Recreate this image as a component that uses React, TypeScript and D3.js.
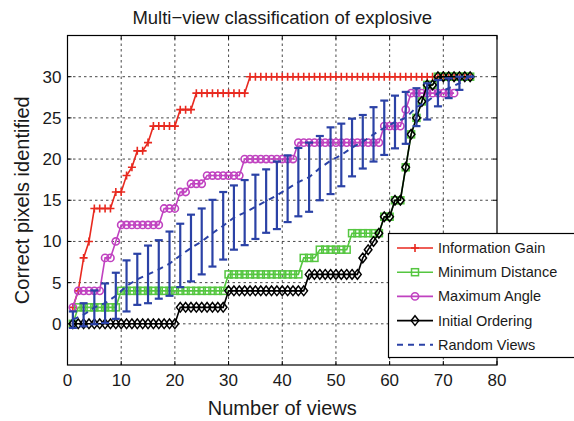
import * as d3 from "d3";

// values, one per view (view 1, 2, 3, ...)
const infoGain = [
  2, 4, 8, 10, 14, 14, 14, 14, 16, 16, 18, 19, 21, 21, 22, 24, 24, 24, 24, 24,
  26, 26, 26, 28, 28, 28, 28, 28, 28, 28, 28, 28, 28, 30, 30, 30, 30, 30, 30, 30,
  30, 30, 30, 30, 30, 30, 30, 30, 30, 30, 30, 30, 30, 30, 30, 30, 30, 30, 30, 30,
  30, 30, 30, 30, 30, 30, 30, 30, 30, 30, 30, 30, 30, 30, 30,
];
const minDistance = [
  0, 2, 2, 2, 2, 2, 2, 2, 2, 4, 4, 4, 4, 4, 4, 4, 4, 4, 4, 4,
  4, 4, 4, 4, 4, 4, 4, 4, 4, 6, 6, 6, 6, 6, 6, 6, 6, 6, 6, 6,
  6, 6, 6, 8, 8, 8, 9, 9, 9, 9, 9, 9, 11, 11, 11, 11, 11, 11, 13, 13,
  15, 15, 19, 23, 25, 27, 29, 29, 30, 30, 30, 30, 30, 30, 30,
];
const maxAngle = [
  2, 4, 4, 4, 4, 4, 8, 8, 10, 12, 12, 12, 12, 12, 12, 12, 12, 14, 14, 14,
  16, 16, 17, 17, 17, 18, 18, 18, 18, 18, 18, 18, 20, 20, 20, 20, 20, 20, 20, 20,
  20, 20, 22, 22, 22, 22, 22, 22, 22, 22, 22, 22, 22, 22, 22, 22, 22, 22, 24, 24,
  24, 24, 26, 28, 28, 28, 28, 28, 28, 28, 28, 28,
];
const initialOrdering = [
  0, 0, 0, 0, 0, 0, 0, 0, 0, 0, 0, 0, 0, 0, 0, 0, 0, 0, 0, 0,
  2, 2, 2, 2, 2, 2, 2, 2, 2, 4, 4, 4, 4, 4, 4, 4, 4, 4, 4, 4,
  4, 4, 4, 4, 6, 6, 6, 6, 6, 6, 6, 6, 6, 6, 8, 9, 10, 11, 13, 13,
  15, 15, 19, 23, 25, 27, 29, 29, 30, 30, 30, 30, 30, 30, 30,
];

// random views: mean and spread, every second view
const randomViews = [
  1, 3, 5, 7, 9, 11, 13, 15, 17, 19, 21, 23, 25, 27, 29, 31, 33, 35, 37,
  39, 41, 43, 45, 47, 49, 51, 53, 55, 57, 59, 61, 63, 65, 67, 69, 71, 73, 75,
];
const randomMean = [
  0.5, 1.1, 2.0, 2.5, 3.4, 4.6, 5.4, 6.0, 6.6, 7.3, 8.3, 9.2, 10.0, 11.0, 11.9, 12.9, 13.5, 14.2, 14.9,
  15.6, 16.4, 17.2, 17.8, 18.9, 19.8, 20.5, 21.4, 22.1, 23.0, 23.8, 24.5, 25.0, 26.3, 27.0, 28.0, 28.6, 29.2, 30,
];
const randomStd = [
  1.0, 1.4, 2.05, 2.4, 2.8, 3.1, 3.1, 3.5, 3.55, 3.9, 3.85, 4.05, 4.0, 4.05, 4.1, 3.9, 3.95, 3.9, 3.85,
  4.1, 4.05, 4.15, 4.2, 3.9, 4.05, 3.8, 3.5, 3.25, 3.3, 3.3, 3.2, 3.15, 2.3, 2.2, 1.6, 1.2, 0.8, 0,
];

const xTicks = [0, 10, 20, 30, 40, 50, 60, 70, 80];
const yTicks = [0, 5, 10, 15, 20, 25, 30];
const legendLabels = ["Information Gain", "Minimum Distance", "Maximum Angle", "Initial Ordering", "Random Views"];

const RED = "#e8291f";
const GREEN = "#55c640";
const MAGENTA = "#c042c0";
const BLACK = "#000";
const BLUE = "#2b42a6";
const FONT = "'Liberation Sans', Arial, Helvetica, sans-serif";

const W = 574;
const H = 421;
const x = d3.scaleLinear().domain([0, 80]).range([67.5, 497]);
const y = d3.scaleLinear().domain([-5, 35]).range([365, 35.5]);

type Marker = "plus" | "square" | "circle" | "diamond";

function markerEl(kind: Marker, cx: number, cy: number, color: string, key: string | number) {
  if (kind === "plus")
    return <path key={key} d={`M${cx - 4},${cy}H${cx + 4}M${cx},${cy - 4}V${cy + 4}`} stroke={color} strokeWidth={1.6} />;
  if (kind === "square")
    return <rect key={key} x={cx - 3.5} y={cy - 3.5} width={7} height={7} fill="none" stroke={color} strokeWidth={1.5} />;
  if (kind === "circle")
    return <circle key={key} cx={cx} cy={cy} r={3.6} fill="none" stroke={color} strokeWidth={1.6} />;
  return <path key={key} d={`M${cx},${cy - 4.8}L${cx + 3.8},${cy}L${cx},${cy + 4.8}L${cx - 3.8},${cy}Z`} fill="none" stroke={color} strokeWidth={1.5} />;
}

function Series({ values, color, marker }: { values: number[]; color: string; marker: Marker }) {
  const pts = values.map((v, i) => [x(i + 1), y(v)] as [number, number]);
  const line = d3.line();
  return (
    <g>
      <path d={line(pts) ?? ""} fill="none" stroke={color} strokeWidth={1.6} />
      {pts.map((p, i) => markerEl(marker, p[0], p[1], color, i))}
    </g>
  );
}

export default function App() {
  const meanLine = d3
    .line<number>()
    .x((_, i) => x(randomViews[i]))
    .y((d) => y(d));

  const gridX = xTicks.filter((t) => t > 0 && t < 80);
  const legendX = 388.5;
  const legendY = 233.5;
  const rowH = 24.2;

  return (
    <svg width={W} height={H} style={{ position: "absolute", left: 0, top: 0, background: "#fff" }} fontFamily={FONT}>
      <rect x={0} y={0} width={W} height={H} fill="#fff" />
      {/* grid */}
      <g stroke="#333" strokeWidth={0.9} strokeDasharray="2.5,3">
        {gridX.map((t) => (
          <line key={"gx" + t} x1={x(t)} x2={x(t)} y1={y(-5)} y2={y(35)} />
        ))}
        {yTicks.map((t) => (
          <line key={"gy" + t} x1={x(0)} x2={x(80)} y1={y(t)} y2={y(t)} />
        ))}
      </g>
      {/* ticks */}
      <g stroke="#000" strokeWidth={1}>
        {xTicks.map((t) => (
          <g key={"tx" + t}>
            <line x1={x(t)} x2={x(t)} y1={y(-5)} y2={y(-5) - 4} />
            <line x1={x(t)} x2={x(t)} y1={y(35)} y2={y(35) + 4} />
          </g>
        ))}
        {yTicks.map((t) => (
          <g key={"ty" + t}>
            <line x1={x(0)} x2={x(0) + 4} y1={y(t)} y2={y(t)} />
            <line x1={x(80)} x2={x(80) - 4} y1={y(t)} y2={y(t)} />
          </g>
        ))}
      </g>

      <Series values={infoGain} color={RED} marker="plus" />
      <Series values={minDistance} color={GREEN} marker="square" />
      <Series values={maxAngle} color={MAGENTA} marker="circle" />
      <Series values={initialOrdering} color={BLACK} marker="diamond" />

      {/* random views with error bars */}
      <g stroke={BLUE} strokeWidth={2.2}>
        {randomViews.map((v, i) => {
          const cx = x(v);
          const lo = y(randomMean[i] - randomStd[i]);
          const hi = y(randomMean[i] + randomStd[i]);
          return (
            <g key={"eb" + v}>
              <line x1={cx} x2={cx} y1={lo} y2={hi} />
              <line x1={cx - 4} x2={cx + 4} y1={lo} y2={lo} />
              <line x1={cx - 4} x2={cx + 4} y1={hi} y2={hi} />
            </g>
          );
        })}
        <path d={meanLine(randomMean) ?? ""} fill="none" strokeWidth={2} strokeDasharray="6,5" />
      </g>

      {/* axes box */}
      <rect x={x(0)} y={y(35)} width={x(80) - x(0)} height={y(-5) - y(35)} fill="none" stroke="#000" strokeWidth={1.2} />

      {/* tick labels */}
      <g fontSize={17} fill="#1a1a1a">
        {xTicks.map((t) => (
          <text key={"lx" + t} x={x(t)} y={386} textAnchor="middle">
            {t}
          </text>
        ))}
        {yTicks.map((t) => (
          <text key={"ly" + t} x={x(0) - 6} y={y(t)} dy="0.35em" textAnchor="end">
            {t}
          </text>
        ))}
      </g>

      {/* labels */}
      <text x={(x(0) + x(80)) / 2} y={23.5} textAnchor="middle" fontSize={18.5} fill="#1a1a1a">
        Multi−view classification of explosive
      </text>
      <text x={(x(0) + x(80)) / 2} y={415} textAnchor="middle" fontSize={20} fill="#1a1a1a">
        Number of views
      </text>
      <text transform={`translate(29,${(y(-5) + y(35)) / 2}) rotate(-90)`} textAnchor="middle" fontSize={20} fill="#1a1a1a">
        Correct pixels identified
      </text>

      {/* legend */}
      <g>
        <rect x={legendX} y={legendY} width={190} height={124} fill="#fff" stroke="#000" strokeWidth={1.2} />
        {legendLabels.map((lab, i) => {
          const ry = legendY + 14.5 + i * rowH;
          const colors = [RED, GREEN, MAGENTA, BLACK, BLUE];
          const markers: (Marker | null)[] = ["plus", "square", "circle", "diamond", null];
          return (
            <g key={lab}>
              <line
                x1={397}
                x2={433}
                y1={ry}
                y2={ry}
                stroke={colors[i]}
                strokeWidth={i === 4 ? 2 : 1.6}
                strokeDasharray={i === 4 ? "6,5" : undefined}
              />
              {markers[i] && markerEl(markers[i] as Marker, 415, ry, colors[i], "m")}
              <text x={438} y={ry} dy="0.35em" fontSize={14.5} fill="#1a1a1a">
                {lab}
              </text>
            </g>
          );
        })}
      </g>
    </svg>
  );
}
